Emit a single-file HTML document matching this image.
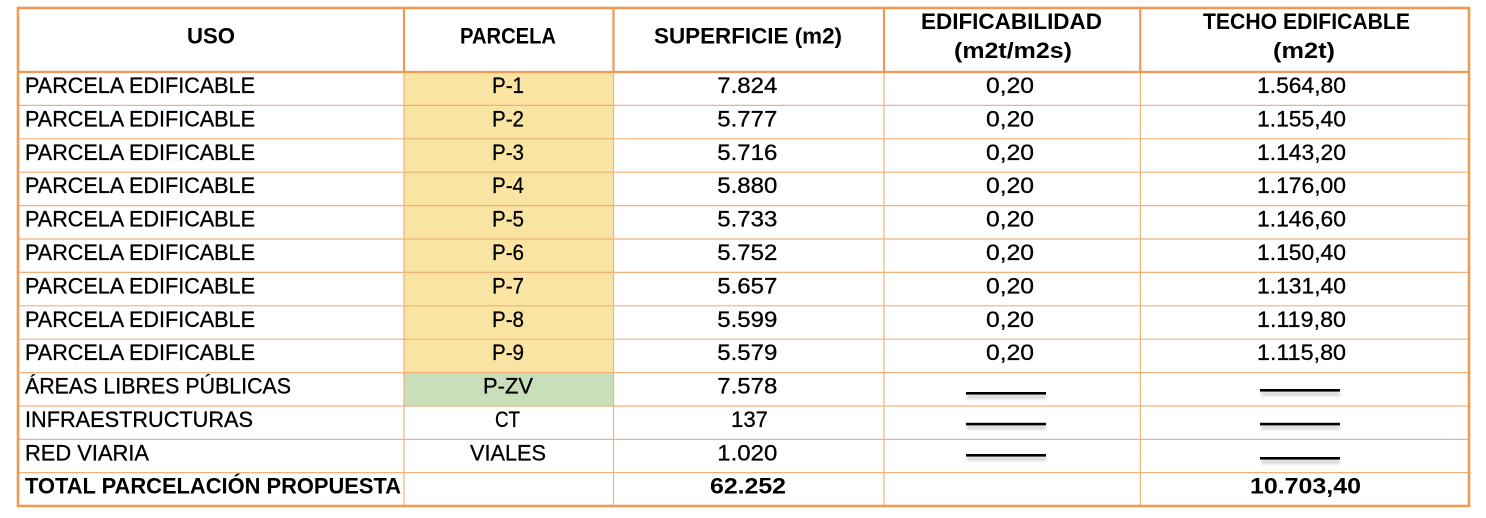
<!DOCTYPE html>
<html>
<head>
<meta charset="utf-8">
<style>
html,body{margin:0;padding:0;background:#fff;}
svg{display:block;}
text{font-family:"Liberation Sans",Arial,sans-serif;fill:#000;}
.n{stroke:#000;stroke-width:0.3;}
</style>
</head>
<body>
<svg width="1486" height="518" viewBox="0 0 1486 518" xmlns="http://www.w3.org/2000/svg">
<defs>
<filter id="sh" x="-10%" y="-200%" width="120%" height="500%">
<feGaussianBlur stdDeviation="1.6"/>
</filter>
</defs>
<rect x="0" y="0" width="1486" height="518" fill="#fff"/>
<!-- fills -->
<rect x="404" y="72" width="209.5" height="300.6" fill="#F9E4A4"/>
<rect x="404" y="372.6" width="209.5" height="33.4" fill="#C9DFB9"/>
<!-- body thin lines -->
<g stroke="#F1B27A" stroke-width="1.2" fill="none">
<line x1="18" y1="105.4" x2="1469" y2="105.4"/>
<line x1="18" y1="138.8" x2="1469" y2="138.8"/>
<line x1="18" y1="172.2" x2="1469" y2="172.2"/>
<line x1="18" y1="205.6" x2="1469" y2="205.6"/>
<line x1="18" y1="239" x2="1469" y2="239"/>
<line x1="18" y1="272.4" x2="1469" y2="272.4"/>
<line x1="18" y1="305.8" x2="1469" y2="305.8"/>
<line x1="18" y1="339.2" x2="1469" y2="339.2"/>
<line x1="18" y1="372.6" x2="1469" y2="372.6"/>
<line x1="18" y1="406" x2="1469" y2="406"/>
<line x1="18" y1="439.4" x2="1469" y2="439.4"/>
<line x1="18" y1="472.6" x2="1469" y2="472.6"/>
<line x1="404" y1="72" x2="404" y2="506"/>
<line x1="613.5" y1="72" x2="613.5" y2="506"/>
<line x1="884" y1="72" x2="884" y2="506"/>
<line x1="1140.3" y1="72" x2="1140.3" y2="506"/>
</g>
<!-- header thick lines -->
<g stroke="#EC9B57" stroke-width="2.2" fill="none">
<line x1="18" y1="72" x2="1469" y2="72"/>
<line x1="404" y1="8" x2="404" y2="72"/>
<line x1="613.5" y1="8" x2="613.5" y2="72"/>
<line x1="884" y1="8" x2="884" y2="72"/>
<line x1="1140.3" y1="8" x2="1140.3" y2="72"/>
<rect x="18" y="8" width="1451" height="498" stroke-width="2.6"/>
</g>
<!-- header text -->
<g font-size="22.5" font-weight="bold">
<text x="211" y="43.3" text-anchor="middle" textLength="48" lengthAdjust="spacingAndGlyphs">USO</text>
<text x="508" y="43.3" text-anchor="middle" textLength="96" lengthAdjust="spacingAndGlyphs">PARCELA</text>
<text x="748" y="43.3" text-anchor="middle" textLength="188" lengthAdjust="spacingAndGlyphs">SUPERFICIE (m2)</text>
<text x="1011.5" y="29" text-anchor="middle" textLength="181" lengthAdjust="spacingAndGlyphs">EDIFICABILIDAD</text>
<text x="1013" y="58" text-anchor="middle" textLength="118" lengthAdjust="spacingAndGlyphs">(m2t/m2s)</text>
<text x="1306.5" y="29" text-anchor="middle" textLength="207" lengthAdjust="spacingAndGlyphs">TECHO EDIFICABLE</text>
<text x="1304" y="58" text-anchor="middle" textLength="62" lengthAdjust="spacingAndGlyphs">(m2t)</text>
</g>
<!-- body text -->
<g font-size="22.5" class="n">
<text x="25" y="93" textLength="230" lengthAdjust="spacingAndGlyphs">PARCELA EDIFICABLE</text>
<text x="508" y="93" text-anchor="middle" textLength="32" lengthAdjust="spacingAndGlyphs">P-1</text>
<text x="747.3" y="93" text-anchor="middle" textLength="60" lengthAdjust="spacingAndGlyphs">7.824</text>
<text x="1010" y="93" text-anchor="middle" textLength="48" lengthAdjust="spacingAndGlyphs">0,20</text>
<text x="1301.5" y="93" text-anchor="middle" textLength="89" lengthAdjust="spacingAndGlyphs">1.564,80</text>

<text x="25" y="126.4" textLength="230" lengthAdjust="spacingAndGlyphs">PARCELA EDIFICABLE</text>
<text x="508" y="126.4" text-anchor="middle" textLength="32" lengthAdjust="spacingAndGlyphs">P-2</text>
<text x="747.3" y="126.4" text-anchor="middle" textLength="60" lengthAdjust="spacingAndGlyphs">5.777</text>
<text x="1010" y="126.4" text-anchor="middle" textLength="48" lengthAdjust="spacingAndGlyphs">0,20</text>
<text x="1301.5" y="126.4" text-anchor="middle" textLength="89" lengthAdjust="spacingAndGlyphs">1.155,40</text>

<text x="25" y="159.8" textLength="230" lengthAdjust="spacingAndGlyphs">PARCELA EDIFICABLE</text>
<text x="508" y="159.8" text-anchor="middle" textLength="32" lengthAdjust="spacingAndGlyphs">P-3</text>
<text x="747.3" y="159.8" text-anchor="middle" textLength="60" lengthAdjust="spacingAndGlyphs">5.716</text>
<text x="1010" y="159.8" text-anchor="middle" textLength="48" lengthAdjust="spacingAndGlyphs">0,20</text>
<text x="1301.5" y="159.8" text-anchor="middle" textLength="89" lengthAdjust="spacingAndGlyphs">1.143,20</text>

<text x="25" y="193.2" textLength="230" lengthAdjust="spacingAndGlyphs">PARCELA EDIFICABLE</text>
<text x="508" y="193.2" text-anchor="middle" textLength="32" lengthAdjust="spacingAndGlyphs">P-4</text>
<text x="747.3" y="193.2" text-anchor="middle" textLength="60" lengthAdjust="spacingAndGlyphs">5.880</text>
<text x="1010" y="193.2" text-anchor="middle" textLength="48" lengthAdjust="spacingAndGlyphs">0,20</text>
<text x="1301.5" y="193.2" text-anchor="middle" textLength="89" lengthAdjust="spacingAndGlyphs">1.176,00</text>

<text x="25" y="226.6" textLength="230" lengthAdjust="spacingAndGlyphs">PARCELA EDIFICABLE</text>
<text x="508" y="226.6" text-anchor="middle" textLength="32" lengthAdjust="spacingAndGlyphs">P-5</text>
<text x="747.3" y="226.6" text-anchor="middle" textLength="60" lengthAdjust="spacingAndGlyphs">5.733</text>
<text x="1010" y="226.6" text-anchor="middle" textLength="48" lengthAdjust="spacingAndGlyphs">0,20</text>
<text x="1301.5" y="226.6" text-anchor="middle" textLength="89" lengthAdjust="spacingAndGlyphs">1.146,60</text>

<text x="25" y="260" textLength="230" lengthAdjust="spacingAndGlyphs">PARCELA EDIFICABLE</text>
<text x="508" y="260" text-anchor="middle" textLength="32" lengthAdjust="spacingAndGlyphs">P-6</text>
<text x="747.3" y="260" text-anchor="middle" textLength="60" lengthAdjust="spacingAndGlyphs">5.752</text>
<text x="1010" y="260" text-anchor="middle" textLength="48" lengthAdjust="spacingAndGlyphs">0,20</text>
<text x="1301.5" y="260" text-anchor="middle" textLength="89" lengthAdjust="spacingAndGlyphs">1.150,40</text>

<text x="25" y="293.4" textLength="230" lengthAdjust="spacingAndGlyphs">PARCELA EDIFICABLE</text>
<text x="508" y="293.4" text-anchor="middle" textLength="32" lengthAdjust="spacingAndGlyphs">P-7</text>
<text x="747.3" y="293.4" text-anchor="middle" textLength="60" lengthAdjust="spacingAndGlyphs">5.657</text>
<text x="1010" y="293.4" text-anchor="middle" textLength="48" lengthAdjust="spacingAndGlyphs">0,20</text>
<text x="1301.5" y="293.4" text-anchor="middle" textLength="89" lengthAdjust="spacingAndGlyphs">1.131,40</text>

<text x="25" y="326.8" textLength="230" lengthAdjust="spacingAndGlyphs">PARCELA EDIFICABLE</text>
<text x="508" y="326.8" text-anchor="middle" textLength="32" lengthAdjust="spacingAndGlyphs">P-8</text>
<text x="747.3" y="326.8" text-anchor="middle" textLength="60" lengthAdjust="spacingAndGlyphs">5.599</text>
<text x="1010" y="326.8" text-anchor="middle" textLength="48" lengthAdjust="spacingAndGlyphs">0,20</text>
<text x="1301.5" y="326.8" text-anchor="middle" textLength="89" lengthAdjust="spacingAndGlyphs">1.119,80</text>

<text x="25" y="360.2" textLength="230" lengthAdjust="spacingAndGlyphs">PARCELA EDIFICABLE</text>
<text x="508" y="360.2" text-anchor="middle" textLength="32" lengthAdjust="spacingAndGlyphs">P-9</text>
<text x="747.3" y="360.2" text-anchor="middle" textLength="60" lengthAdjust="spacingAndGlyphs">5.579</text>
<text x="1010" y="360.2" text-anchor="middle" textLength="48" lengthAdjust="spacingAndGlyphs">0,20</text>
<text x="1301.5" y="360.2" text-anchor="middle" textLength="89" lengthAdjust="spacingAndGlyphs">1.115,80</text>

<text x="25" y="393.6" textLength="266" lengthAdjust="spacingAndGlyphs">ÁREAS LIBRES PÚBLICAS</text>
<text x="508" y="393.6" text-anchor="middle" textLength="50" lengthAdjust="spacingAndGlyphs">P-ZV</text>
<text x="747.3" y="393.6" text-anchor="middle" textLength="60" lengthAdjust="spacingAndGlyphs">7.578</text>

<text x="25" y="427" textLength="228" lengthAdjust="spacingAndGlyphs">INFRAESTRUCTURAS</text>
<text x="507.5" y="427" text-anchor="middle" textLength="25" lengthAdjust="spacingAndGlyphs">CT</text>
<text x="749.5" y="427" text-anchor="middle" textLength="37" lengthAdjust="spacingAndGlyphs">137</text>

<text x="25" y="460.4" textLength="124" lengthAdjust="spacingAndGlyphs">RED VIARIA</text>
<text x="508" y="460.4" text-anchor="middle" textLength="76" lengthAdjust="spacingAndGlyphs">VIALES</text>
<text x="747.3" y="460.4" text-anchor="middle" textLength="60" lengthAdjust="spacingAndGlyphs">1.020</text>
</g>
<g font-size="22.5" font-weight="bold">
<text x="25" y="493.6" textLength="376" lengthAdjust="spacingAndGlyphs">TOTAL PARCELACIÓN PROPUESTA</text>
<text x="748" y="493.6" text-anchor="middle" textLength="76" lengthAdjust="spacingAndGlyphs">62.252</text>
<text x="1305.5" y="493.6" text-anchor="middle" textLength="111" lengthAdjust="spacingAndGlyphs">10.703,40</text>
</g>
<!-- dash shadows -->
<g fill="#9a9a9a" opacity="0.55" filter="url(#sh)">
<rect x="967" y="395.5" width="79" height="3"/>
<rect x="967" y="426.2" width="79" height="3"/>
<rect x="967" y="457.5" width="79" height="3"/>
<rect x="1261" y="392.5" width="79" height="3"/>
<rect x="1261" y="426.2" width="79" height="3"/>
<rect x="1261" y="460.5" width="79" height="3"/>
</g>
<!-- dashes -->
<g fill="#000">
<rect x="966" y="392" width="80" height="2.6"/>
<rect x="966" y="422.8" width="80" height="2.6"/>
<rect x="966" y="454" width="80" height="2.6"/>
<rect x="1260" y="389" width="80" height="2.6"/>
<rect x="1260" y="422.8" width="80" height="2.6"/>
<rect x="1260" y="457" width="80" height="2.6"/>
</g>
</svg>
</body>
</html>
